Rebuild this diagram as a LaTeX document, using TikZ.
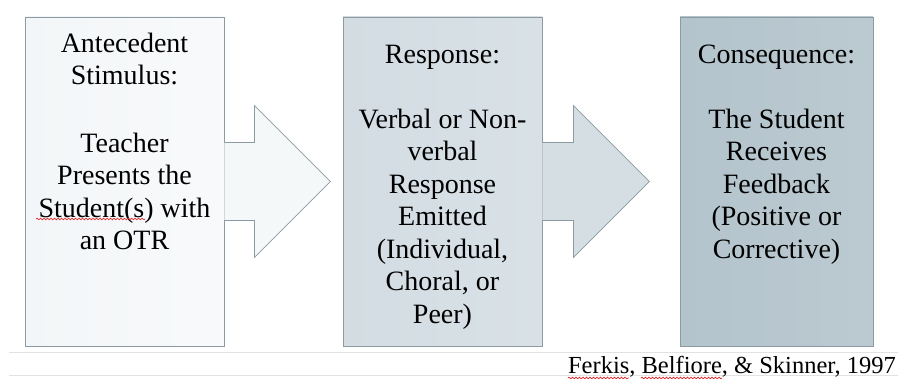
\documentclass[tikz,border=0pt]{standalone}
\usepackage{fontspec}
\setmainfont{Liberation Serif}
\usetikzlibrary{calc, shadows, decorations.pathmorphing}
\definecolor{abcpale}{RGB}{243, 246, 248}
\definecolor{abcmid}{RGB}{210, 220, 226}
\definecolor{abcdeep}{RGB}{180, 196, 204}
\definecolor{abcedge}{RGB}{140, 154, 162}
\definecolor{abcrule}{RGB}{226, 226, 226}
\definecolor{spellred}{RGB}{230, 40, 40}

\begin{document}
\begin{tikzpicture}[
    x=1pt, y=-1pt,
    stage/.style={rectangle, draw=abcedge, line width=0.8pt, minimum width=199pt, minimum height=329pt,
      drop shadow={opacity=0.25, shadow xshift=1pt, shadow yshift=-1pt}},
    stagetext/.style={font=\fontsize{28}{32.5}\selectfont, align=center, inner sep=0pt, anchor=north},
    blockarrow/.style={draw=abcedge, line width=0.8pt, line join=miter},
    spellmark/.style={spellred, line width=0.7pt, decorate, decoration={snake, amplitude=0.8pt, segment length=3.5pt}},
    rule/.style={draw=abcrule, line width=1pt}
  ]
    \fill[white] (0,0) rectangle (898,379);
    \useasboundingbox (0,0) rectangle (898,379);

    % the three stages
    \node[stage, left color=abcpale, right color=abcpale!60!white] (ante) at (124.5, 181.5) {};
    \node[stage, left color=abcmid, right color=abcmid!85!white] (resp) at (442.5, 181.5) {};
    \node[stage, minimum width=193pt, left color=abcdeep, right color=abcdeep!90!white] (cons) at (776.5, 181.5) {};

    % block arrows from one stage to the next
    \draw[blockarrow, fill=abcpale!80!white] ($(ante.east)+(0,-39)$) -- ++(30,0) -- ++(0,-37)
      -- ($(ante.east)+(106,0)$) -- ($(ante.east)+(30,76)$) -- ++(0,-37) -- ($(ante.east)+(0,39)$);
    \draw[blockarrow, fill=abcmid!95!white] ($(resp.east)+(0,-39)$) -- ++(31,0) -- ++(0,-37)
      -- ($(resp.east)+(107,0)$) -- ($(resp.east)+(31,76)$) -- ++(0,-37) -- ($(resp.east)+(0,39)$);

    \node[stagetext] (antetext) at (124.5, 32.5) {Antecedent\\Stimulus:\\[35pt]Teacher\\Presents the\\Student(s) with\\an OTR};
    \node[stagetext] (resptext) at (442.5, 44.5) {Response:\\[32.5pt]Verbal or Non-\\verbal\\Response\\Emitted\\(Individual,\\Choral, or\\Peer)};
    \node[stagetext] (constext) at (776.5, 44.5) {Consequence:\\[32.5pt]The Student\\Receives\\Feedback\\(Positive or\\Corrective)};

    % rules and the source line
    \draw[rule] (9,353) -- (898,353);
    \draw[rule] (9,376) -- (898,376);
    \node[font=\fontsize{24.5}{28}\selectfont, inner sep=0pt, anchor=base east] (cite) at (896,374) {Ferkis, Belfiore, \& Skinner, 1997};

    % spell-check marks
    \draw[spellmark] (36,219) -- (145,219);
    \draw[spellmark] ($(cite.base west)+(0,4)$) -- ++(61,0);
    \draw[spellmark] ($(cite.base west)+(73,4)$) -- ++(81,0);
\end{tikzpicture}
\end{document}
